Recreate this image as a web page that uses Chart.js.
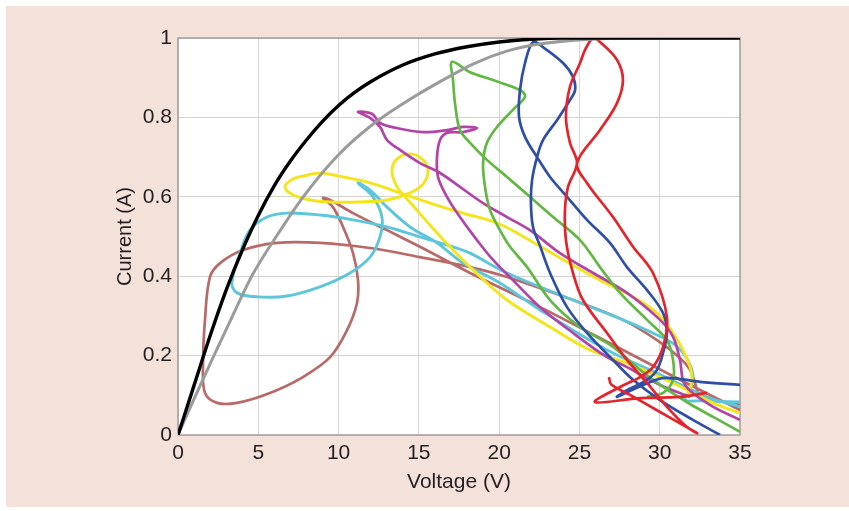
<!DOCTYPE html>
<html>
<head>
<meta charset="utf-8">
<script src="https://cdn.jsdelivr.net/npm/chart.js@4.4.1/dist/chart.umd.min.js"></script>
<style>
    body { margin: 0; background: #fff; }
    #wrap { width: 849px; height: 511px; position: relative; }
</style>
</head>
<body>
<div id="wrap"><canvas id="ivChart"></canvas></div>
<script>
// I-V curves, voltage in V, current in A
const xTicks = [0, 5, 10, 15, 20, 25, 30, 35];
const yTicks = [0, 0.2, 0.4, 0.6, 0.8, 1];

const blackV = [0, 1, 2, 3, 4, 5, 6, 7, 8, 9, 10, 11, 12, 14, 16, 18, 20, 22, 24, 35];
const blackI = [0, 0.125, 0.25, 0.365, 0.465, 0.553, 0.628, 0.69, 0.743, 0.79, 0.83, 0.863, 0.89, 0.932, 0.96, 0.978, 0.99, 0.997, 1, 1];

const greyV = [0, 1.1, 2.2, 3.4, 4.59, 6.2, 7.8, 9.88, 11.96, 14.03, 16.32, 18.4, 20.47, 22.5, 25.66, 28.8, 35];
const greyI = [0, 0.1, 0.197, 0.3, 0.4, 0.505, 0.6, 0.701, 0.777, 0.835, 0.89, 0.935, 0.967, 0.985, 0.997, 1, 1];

const redV = [32.95, 31.26, 28.77, 25.97, 27.53, 28.77, 29.58, 30.21, 30.45, 29.58, 28.34, 27.09, 25.47, 24.85, 26.28, 27.34, 27.71, 27.34, 26.28, 25.85, 25.35, 25.04, 24.41, 24.16, 24.41, 24.85, 24.29, 24.10, 24.16, 24.60, 25.22, 26.72, 27.96, 29.21, 30.45, 31.70, 32.32, 30.02, 28.15, 26.97, 26.84];
const redI = [0.106, 0.096, 0.093, 0.083, 0.121, 0.146, 0.171, 0.222, 0.297, 0.408, 0.474, 0.549, 0.635, 0.685, 0.768, 0.836, 0.894, 0.945, 0.990, 1.0, 0.970, 0.937, 0.877, 0.801, 0.736, 0.685, 0.625, 0.567, 0.491, 0.408, 0.340, 0.257, 0.189, 0.131, 0.071, 0.020, 0.005, 0.058, 0.101, 0.128, 0.146];

const blueV = [33.76, 32.07, 30.02, 28.34, 27.09, 25.47, 24.23, 23.17, 22.55, 22.11, 21.98, 22.05, 22.36, 22.73, 23.60, 24.41, 24.73, 24.60, 23.98, 22.73, 22.11, 21.61, 21.30, 21.24, 21.61, 22.36, 23.17, 24.23, 25.47, 26.90, 27.96, 29.21, 30.21, 30.45, 30.21, 29.83, 29.21, 27.96, 27.34, 29.08, 30.33, 32.51, 35.0];
const blueI = [0.0, 0.038, 0.088, 0.139, 0.189, 0.257, 0.322, 0.408, 0.476, 0.524, 0.584, 0.642, 0.700, 0.743, 0.793, 0.844, 0.869, 0.902, 0.937, 0.977, 0.990, 0.937, 0.869, 0.801, 0.751, 0.700, 0.650, 0.600, 0.542, 0.484, 0.423, 0.365, 0.307, 0.257, 0.207, 0.164, 0.139, 0.113, 0.096, 0.128, 0.144, 0.134, 0.126];

const greenV = [35.0, 33.44, 31.89, 30.33, 28.77, 27.09, 25.04, 23.17, 21.74, 20.68, 20.05, 19.43, 19.12, 19.0, 19.24, 19.87, 20.86, 21.49, 21.61, 21.30, 19.62, 18.19, 17.06, 17.13, 17.25, 17.56, 18.19, 19.24, 20.49, 21.92, 23.36, 25.04, 26.28, 27.53, 29.21, 30.45, 30.83, 30.83, 30.21, 29.21];
const greenI = [0.008, 0.043, 0.078, 0.118, 0.164, 0.222, 0.272, 0.340, 0.423, 0.474, 0.516, 0.567, 0.625, 0.685, 0.736, 0.776, 0.819, 0.844, 0.856, 0.869, 0.894, 0.914, 0.940, 0.894, 0.836, 0.768, 0.736, 0.693, 0.650, 0.600, 0.549, 0.491, 0.423, 0.358, 0.290, 0.239, 0.189, 0.139, 0.106, 0.096];

const magentaV = [35.0, 33.13, 31.58, 31.26, 30.83, 30.02, 27.96, 25.85, 23.79, 21.92, 20.49, 19.0, 17.56, 16.32, 15.07, 13.83, 13.02, 12.58, 11.96, 11.21, 12.08, 12.58, 13.64, 15.26, 16.75, 17.75, 18.62, 17.75, 16.75, 16.32, 16.13, 16.19, 16.75, 17.56, 18.62, 19.62, 20.86, 22.55, 24.60, 26.72, 27.96, 30.02, 31.89];
const magentaI = [0.038, 0.076, 0.126, 0.189, 0.247, 0.290, 0.358, 0.408, 0.458, 0.516, 0.549, 0.584, 0.625, 0.660, 0.685, 0.718, 0.743, 0.776, 0.799, 0.814, 0.809, 0.786, 0.773, 0.763, 0.768, 0.776, 0.773, 0.763, 0.761, 0.743, 0.700, 0.650, 0.600, 0.549, 0.491, 0.441, 0.390, 0.322, 0.257, 0.196, 0.171, 0.126, 0.096];

const yellowV = [35.0, 33.32, 30.83, 27.96, 25.66, 23.17, 20.49, 18.37, 16.94, 15.69, 14.76, 14.14, 13.64, 13.33, 13.58, 14.45, 15.26, 15.57, 15.26, 14.45, 13.02, 11.33, 9.47, 8.22, 7.16, 6.66, 7.16, 7.78, 8.84, 10.28, 11.96, 13.83, 15.69, 17.75, 19.87, 21.11, 23.79, 26.28, 28.34, 29.83, 30.83, 31.45, 31.89, 32.01, 31.76, 31.45];
const yellowI = [0.055, 0.081, 0.131, 0.181, 0.214, 0.272, 0.340, 0.416, 0.474, 0.529, 0.572, 0.600, 0.625, 0.662, 0.693, 0.708, 0.693, 0.665, 0.632, 0.610, 0.592, 0.587, 0.587, 0.592, 0.605, 0.625, 0.645, 0.652, 0.660, 0.650, 0.635, 0.610, 0.584, 0.559, 0.534, 0.509, 0.446, 0.390, 0.348, 0.307, 0.257, 0.214, 0.171, 0.139, 0.106, 0.096];

const cyanV = [35.0, 32.51, 31.58, 31.89, 32.07, 31.64, 30.95, 29.83, 27.71, 24.60, 20.49, 18.19, 17.13, 15.07, 13.02, 10.90, 8.84, 6.79, 5.54, 4.48, 3.86, 3.36, 3.67, 4.92, 6.79, 8.84, 10.71, 11.96, 12.58, 12.70, 12.14, 11.21, 11.96, 13.02, 14.45, 16.13, 17.75, 20.05, 22.55, 26.72, 29.83, 32.95, 35.0];
const cyanI = [0.083, 0.086, 0.088, 0.113, 0.151, 0.196, 0.227, 0.252, 0.290, 0.340, 0.408, 0.458, 0.474, 0.499, 0.524, 0.542, 0.554, 0.559, 0.549, 0.516, 0.458, 0.383, 0.358, 0.348, 0.350, 0.373, 0.408, 0.448, 0.499, 0.549, 0.600, 0.635, 0.617, 0.574, 0.524, 0.484, 0.433, 0.383, 0.315, 0.214, 0.156, 0.096, 0.071];

const brownV = [35.0, 32.51, 32.20, 31.89, 31.26, 29.83, 27.71, 24.60, 20.49, 18.19, 15.07, 11.96, 8.84, 6.17, 4.05, 2.62, 1.99, 1.68, 1.56, 1.68, 2.43, 3.67, 5.73, 7.78, 9.47, 10.53, 11.15, 11.21, 10.90, 10.28, 9.65, 9.03, 9.47, 10.90, 13.02, 15.07, 18.19, 22.55, 27.71, 31.26, 35.0];
const brownI = [0.076, 0.101, 0.131, 0.164, 0.194, 0.239, 0.290, 0.340, 0.398, 0.423, 0.448, 0.471, 0.484, 0.484, 0.466, 0.433, 0.398, 0.290, 0.181, 0.106, 0.081, 0.081, 0.106, 0.146, 0.196, 0.264, 0.333, 0.390, 0.458, 0.524, 0.574, 0.597, 0.592, 0.559, 0.516, 0.474, 0.408, 0.322, 0.214, 0.139, 0.063];

function toPoints(vs, is) {
    return vs.map((v, i) => ({ x: v, y: is[i] }));
}

function curve(vs, is, color, width, smooth) {
    const ds = {
        data: toPoints(vs, is),
        borderColor: color,
        borderWidth: width,
        showLine: true,
        pointRadius: 0,
        tension: 0.35,
        fill: false
    };
    if (smooth) ds.cubicInterpolationMode = 'monotone';
    return ds;
}

const pagePlugin = {
    id: 'page',
    beforeDraw(chart) {
        const ctx = chart.ctx;
        const a = chart.chartArea;
        ctx.save();
        ctx.fillStyle = '#ffffff';
        ctx.fillRect(0, 0, chart.width, chart.height);
        ctx.fillStyle = '#f4e1da';
        ctx.fillRect(6, 6, chart.width - 6, chart.height - 10);
        ctx.fillStyle = '#ffffff';
        ctx.fillRect(a.left, a.top, a.right - a.left, a.bottom - a.top);
        ctx.restore();
    },
    beforeDatasetsDraw(chart) {
        const ctx = chart.ctx;
        const a = chart.chartArea;
        ctx.save();
        ctx.strokeStyle = '#a39d9b';
        ctx.lineWidth = 1.5;
        ctx.strokeRect(a.left, a.top, a.right - a.left, a.bottom - a.top);
        ctx.restore();
    }
};

const tickFont = { family: '"Liberation Sans", Arial, sans-serif', size: 21 };
const yTitleFont = { family: '"Liberation Sans", Arial, sans-serif', size: 20 };

new Chart(document.getElementById('ivChart'), {
    type: 'scatter',
    data: {
        datasets: [
            curve(blackV, blackI, '#000000', 3.4, true),
            curve(greyV, greyI, '#9b9b9b', 3, true),
            curve(redV, redI, '#e4232b', 2.7),
            curve(blueV, blueI, '#2f4ea6', 2.7),
            curve(greenV, greenI, '#62b843', 2.7),
            curve(magentaV, magentaI, '#b244a8', 2.7),
            curve(yellowV, yellowI, '#f4e51a', 2.9),
            curve(cyanV, cyanI, '#5ec6da', 2.9),
            curve(brownV, brownI, '#b86a68', 2.7)
        ]
    },
    options: {
        responsive: true,
        maintainAspectRatio: false,
        animation: false,
        layout: { padding: { left: 110, top: 38, right: 109, bottom: 0 } },
        plugins: { legend: { display: false }, tooltip: { enabled: false } },
        scales: {
            x: {
                type: 'linear',
                min: 0,
                max: 35,
                afterBuildTicks: s => { s.ticks = xTicks.map(v => ({ value: v })); },
                afterFit: s => { s.height = 76; },
                ticks: { font: tickFont, color: '#231f20', padding: 6, maxRotation: 0 },
                grid: { color: '#dcd6d4', drawTicks: false },
                border: { display: false },
                title: { display: true, text: 'Voltage (V)', font: tickFont, color: '#231f20', padding: { top: 0, bottom: 16 } }
            },
            y: {
                min: 0,
                max: 1,
                afterBuildTicks: s => { s.ticks = yTicks.map(v => ({ value: v })); },
                afterFit: s => { s.width = 68; },
                ticks: { font: tickFont, color: '#231f20', padding: 6, callback: v => String(Math.round(v * 10) / 10) },
                grid: { color: '#d6d2d0', drawTicks: false },
                border: { display: false },
                title: { display: true, text: 'Current (A)', font: yTitleFont, color: '#231f20', padding: { top: 3, bottom: 0 } }
            }
        }
    },
    plugins: [pagePlugin]
});
</script>
</body>
</html>
